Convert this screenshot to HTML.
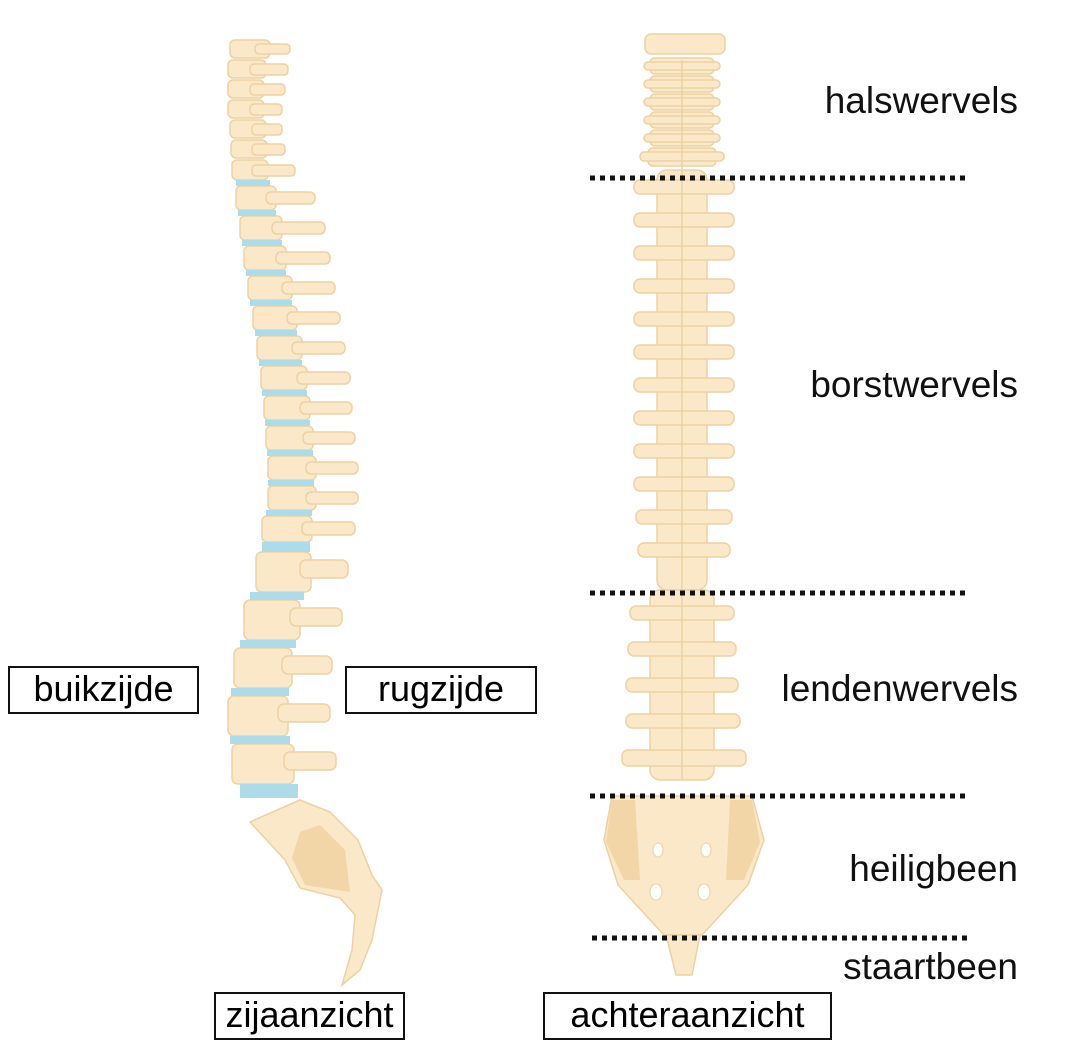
<!DOCTYPE html>
<html><head><meta charset="utf-8"><style>
html,body{margin:0;padding:0;background:#fff;}
#c{position:relative;width:1079px;height:1061px;overflow:hidden;font-family:"Liberation Sans",sans-serif;}
.t{position:absolute;font-size:37px;color:#111;white-space:nowrap;}
.r{right:61px;text-align:right;}
.b{position:absolute;border:2px solid #111;font-size:36px;text-align:center;line-height:42px;box-sizing:border-box;height:48px;}
svg{position:absolute;left:0;top:0;}
</style></head><body><div id="c">
<svg width="1079" height="1061" viewBox="0 0 1079 1061">
<g fill="#fae8c8" stroke="#ecd2a2" stroke-width="1.5">
<rect x="230" y="40" width="40" height="18" rx="5"/><rect x="255" y="44" width="35" height="10" rx="4"/>
<rect x="228" y="60" width="38" height="18" rx="5"/><rect x="250" y="64" width="38" height="11" rx="4"/>
<rect x="228" y="80" width="36" height="18" rx="5"/><rect x="250" y="84" width="35" height="11" rx="4"/>
<rect x="228" y="100" width="36" height="18" rx="5"/><rect x="250" y="104" width="32" height="11" rx="4"/>
<rect x="230" y="120" width="36" height="18" rx="5"/><rect x="252" y="124" width="30" height="11" rx="4"/>
<rect x="231" y="140" width="36" height="18" rx="5"/><rect x="252" y="144" width="33" height="11" rx="4"/>
<rect x="232" y="160" width="36" height="20" rx="5"/><rect x="252" y="165" width="43" height="11" rx="4"/>
<rect x="236" y="186" width="40" height="24" rx="5"/><rect x="266" y="192" width="49" height="12" rx="5"/>
<rect x="240" y="216" width="42" height="24" rx="5"/><rect x="272" y="222" width="53" height="12" rx="5"/>
<rect x="244" y="246" width="42" height="24" rx="5"/><rect x="276" y="252" width="54" height="12" rx="5"/>
<rect x="248" y="276" width="44" height="24" rx="5"/><rect x="282" y="282" width="53" height="12" rx="5"/>
<rect x="253" y="306" width="44" height="24" rx="5"/><rect x="287" y="312" width="53" height="12" rx="5"/>
<rect x="257" y="336" width="45" height="24" rx="5"/><rect x="292" y="342" width="53" height="12" rx="5"/>
<rect x="261" y="366" width="46" height="24" rx="5"/><rect x="297" y="372" width="53" height="12" rx="5"/>
<rect x="264" y="396" width="46" height="24" rx="5"/><rect x="300" y="402" width="52" height="12" rx="5"/>
<rect x="266" y="426" width="47" height="24" rx="5"/><rect x="303" y="432" width="52" height="12" rx="5"/>
<rect x="268" y="456" width="48" height="24" rx="5"/><rect x="306" y="462" width="52" height="12" rx="5"/>
<rect x="268" y="486" width="48" height="24" rx="5"/><rect x="306" y="492" width="52" height="12" rx="5"/>
<rect x="262" y="516" width="50" height="26" rx="5"/><rect x="302" y="522" width="53" height="13" rx="5"/>
<rect x="256" y="552" width="55" height="40" rx="6"/><rect x="300" y="560" width="48" height="18" rx="6"/>
<rect x="244" y="600" width="56" height="40" rx="6"/><rect x="290" y="608" width="52" height="18" rx="6"/>
<rect x="234" y="648" width="58" height="40" rx="6"/><rect x="282" y="656" width="50" height="18" rx="6"/>
<rect x="228" y="696" width="60" height="40" rx="6"/><rect x="278" y="704" width="52" height="18" rx="6"/>
<rect x="232" y="744" width="62" height="40" rx="6"/><rect x="284" y="752" width="52" height="18" rx="6"/>
<path d="M250 822 L300 800 L330 812 L358 840 L372 875 L382 890 L372 940 L360 970 L342 985 L352 950 L355 915 L340 898 L300 888 L285 860 Z"/>
</g>
<path d="M292 858 L300 832 L320 825 L345 850 L350 892 L305 885 Z" fill="#f2d6a8"/>
<g fill="#acdcea">
<rect x="236" y="180" width="34" height="6"/><rect x="238" y="210" width="38" height="6"/><rect x="242" y="240" width="40" height="6"/>
<rect x="246" y="270" width="40" height="6"/><rect x="250" y="300" width="42" height="6"/><rect x="255" y="330" width="42" height="6"/>
<rect x="259" y="360" width="43" height="6"/><rect x="262" y="390" width="45" height="6"/><rect x="265" y="420" width="45" height="6"/>
<rect x="267" y="450" width="46" height="6"/><rect x="268" y="480" width="46" height="6"/><rect x="266" y="510" width="46" height="6"/>
<rect x="262" y="542" width="48" height="10"/><rect x="250" y="592" width="54" height="8"/><rect x="240" y="640" width="56" height="8"/>
<rect x="231" y="688" width="58" height="8"/><rect x="230" y="736" width="60" height="8"/><rect x="240" y="784" width="58" height="14"/>
</g>
<g fill="#fae8c8" stroke="#ecd2a2" stroke-width="1.5">
<rect x="645" y="34" width="80" height="20" rx="6"/>
<rect x="650" y="58" width="64" height="16" rx="5"/><rect x="644" y="62" width="76" height="8" rx="4"/>
<rect x="650" y="76" width="64" height="16" rx="5"/><rect x="644" y="80" width="76" height="8" rx="4"/>
<rect x="650" y="94" width="64" height="16" rx="5"/><rect x="644" y="98" width="76" height="8" rx="4"/>
<rect x="650" y="112" width="64" height="16" rx="5"/><rect x="644" y="116" width="76" height="8" rx="4"/>
<rect x="650" y="130" width="64" height="16" rx="5"/><rect x="644" y="134" width="76" height="8" rx="4"/>
<rect x="648" y="148" width="68" height="18" rx="5"/><rect x="640" y="152" width="84" height="9" rx="4"/>
</g>
<g fill="#fae8c8" stroke="#ecd2a2" stroke-width="1.5">
<rect x="657" y="170" width="50" height="420" rx="10"/>
<rect x="634" y="180" width="100" height="14" rx="6"/><rect x="634" y="213" width="100" height="14" rx="6"/>
<rect x="634" y="246" width="100" height="14" rx="6"/><rect x="634" y="279" width="100" height="14" rx="6"/>
<rect x="634" y="312" width="100" height="14" rx="6"/><rect x="634" y="345" width="100" height="14" rx="6"/>
<rect x="634" y="378" width="100" height="14" rx="6"/><rect x="634" y="411" width="100" height="14" rx="6"/>
<rect x="634" y="444" width="100" height="14" rx="6"/><rect x="634" y="477" width="100" height="14" rx="6"/>
<rect x="636" y="510" width="96" height="14" rx="6"/><rect x="638" y="543" width="92" height="14" rx="6"/>
<rect x="650" y="590" width="64" height="190" rx="10"/>
<rect x="630" y="606" width="104" height="14" rx="6"/><rect x="628" y="642" width="108" height="14" rx="6"/>
<rect x="626" y="678" width="112" height="14" rx="6"/><rect x="626" y="714" width="114" height="14" rx="6"/>
<rect x="622" y="750" width="124" height="16" rx="6"/>
<path d="M612 796 L752 796 L764 840 L748 885 L702 935 L664 935 L618 885 L604 840 Z"/>
<path d="M666 935 L700 935 L692 975 L676 975 Z"/>
</g>
<g stroke="#ecd2a2" stroke-width="1.5" fill="none"><path d="M682 60 V780"/></g>
<path d="M612 800 L635 800 L640 880 L624 880 L606 842 Z" fill="#f2d6a8"/>
<path d="M752 800 L730 800 L726 880 L744 880 L760 842 Z" fill="#f2d6a8"/>
<g fill="#fff" stroke="#ecd2a2"><ellipse cx="658" cy="850" rx="5" ry="7"/><ellipse cx="706" cy="850" rx="5" ry="7"/>
<ellipse cx="656" cy="892" rx="6" ry="8"/><ellipse cx="704" cy="892" rx="6" ry="8"/></g>
<g stroke="#111" stroke-width="5" stroke-dasharray="5 5">
<line x1="590" y1="178" x2="970" y2="178"/><line x1="590" y1="593" x2="970" y2="593"/>
<line x1="590" y1="796" x2="970" y2="796"/><line x1="592" y1="938" x2="972" y2="938"/>
</g>
</svg>
<div class="t r" style="top:80px">halswervels</div>
<div class="t r" style="top:364px">borstwervels</div>
<div class="t r" style="top:668px">lendenwervels</div>
<div class="t r" style="top:848px">heiligbeen</div>
<div class="t r" style="top:946px">staartbeen</div>
<div class="b" style="left:8px;top:666px;width:191px">buikzijde</div>
<div class="b" style="left:345px;top:666px;width:192px">rugzijde</div>
<div class="b" style="left:214px;top:992px;width:191px">zijaanzicht</div>
<div class="b" style="left:543px;top:992px;width:289px">achteraanzicht</div>
</div></body></html>
